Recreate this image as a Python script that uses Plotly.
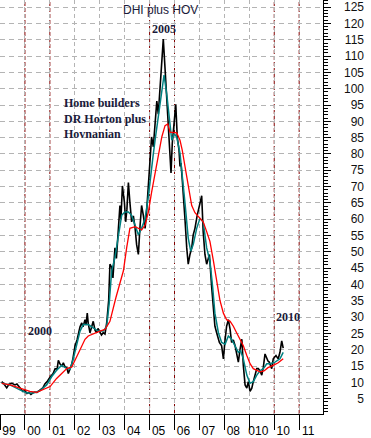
import plotly.graph_objects as go

# ---------------- data ----------------
price_t = [1999.07,1999.16,1999.27,1999.36,1999.48,1999.60,1999.68,1999.76,1999.84,1999.92,
           2000.00,2000.08,2000.16,2000.24,2000.32,2000.40,2000.48,2000.56,2000.64,2000.72,2000.80,2000.89,2000.97,
           2001.05,2001.13,2001.21,2001.29,2001.34,2001.41,2001.49,2001.54,2001.61,2001.68,2001.74,2001.81,2001.88,2001.93,
           2002.01,2002.09,2002.14,2002.21,2002.28,2002.33,2002.41,2002.45,2002.50,2002.54,2002.61,2002.67,2002.74,2002.81,2002.88,2002.93,
           2003.01,2003.07,2003.14,2003.21,2003.28,2003.36,2003.41,2003.48,2003.53,2003.61,2003.67,2003.75,2003.81,2003.85,2003.91,2003.99,
           2004.04,2004.09,2004.15,2004.21,2004.28,2004.35,2004.42,2004.48,2004.55,2004.62,2004.68,2004.75,2004.82,2004.88,2004.95,
           2005.02,2005.08,2005.15,2005.22,2005.29,2005.35,2005.42,2005.49,2005.55,2005.62,2005.69,2005.75,2005.82,2005.86,2005.91,2005.98,
           2006.05,2006.11,2006.18,2006.22,2006.26,2006.31,2006.35,2006.42,2006.49,2006.55,2006.62,2006.69,2006.75,2006.82,2006.91,2006.99,
           2007.09,2007.15,2007.22,2007.29,2007.34,2007.40,2007.49,2007.56,2007.62,2007.69,2007.74,2007.80,2007.89,2007.96,
           2008.03,2008.09,2008.16,2008.23,2008.29,2008.36,2008.43,2008.49,2008.56,2008.63,2008.70,2008.76,2008.83,2008.90,2008.96,
           2009.03,2009.10,2009.16,2009.23,2009.30,2009.36,2009.43,2009.50,2009.56,2009.63,2009.70,2009.75,2009.80,2009.90,2009.96,
           2010.07,2010.16,2010.23,2010.30,2010.36]
price_v = [10.2,9.5,8.3,9.4,9.7,9.2,9.5,8.6,7.8,7.2,
           7.5,6.6,6.9,6.3,6.8,7.0,6.9,7.4,7.8,8.3,9.5,10.2,11.2,
           12.0,12.7,14.2,14.0,16.7,15.6,15.0,16.0,14.7,14.5,12.7,14.0,15.6,17.5,
           21.2,23.0,25.2,27.0,28.2,27.0,29.2,27.5,31.2,28.0,25.2,27.0,28.7,26.0,25.2,26.5,
           25.5,24.5,25.2,24.8,28.2,35.2,46.2,45.2,42.0,51.2,48.0,57.2,64.2,60.0,70.2,65.2,
           59.2,63.0,71.2,65.2,59.2,61.0,57.2,52.2,49.2,58.2,64.2,61.2,57.2,62.2,71.2,
           79.2,85.2,82.2,88.2,96.2,92.2,101.2,111.2,115.2,106.2,96.2,88.2,79.2,74.2,83.2,88.2,
           95.2,85.2,81.2,76.2,77.2,72.2,66.2,60.0,51.2,46.2,49.2,51.2,55.2,57.2,61.2,64.2,
           67.2,56.2,49.2,46.2,48.0,49.2,39.2,31.2,27.2,25.2,24.0,22.2,21.2,17.2,
           23.2,27.2,29.2,26.2,22.2,23.0,21.2,18.2,16.2,20.2,23.2,15.2,9.2,8.2,10.2,
           7.2,8.2,10.2,12.2,14.2,14.2,13.5,12.2,14.5,18.7,17.2,16.5,16.2,14.2,17.2,
           18.2,17.2,19.2,22.7,20.5]

short_ma_t = [1999.07,1999.40,1999.80,2000.07,2000.34,2000.60,2000.87,2001.07,2001.27,2001.47,2001.68,2001.81,2001.94,
              2002.08,2002.21,2002.34,2002.54,2002.74,2002.94,2003.14,2003.28,2003.38,2003.48,2003.61,2003.75,2003.88,
              2004.01,2004.15,2004.28,2004.42,2004.55,2004.68,2004.82,2004.95,2005.02,2005.08,2005.15,2005.22,2005.35,
              2005.49,2005.58,2005.69,2005.78,2005.89,2005.99,2006.09,2006.22,2006.35,2006.42,2006.55,2006.65,2006.75,
              2006.89,2007.02,2007.15,2007.29,2007.42,2007.53,2007.62,2007.76,2007.89,2008.03,2008.16,2008.29,2008.43,
              2008.56,2008.65,2008.76,2008.90,2009.03,2009.16,2009.30,2009.43,2009.56,2009.70,2009.83,2010.03,2010.23,2010.36]
short_ma_v = [9.7,9.2,7.7,6.7,6.7,7.4,9.2,11.7,13.7,15.2,14.2,14.0,17.2,
              21.7,25.7,27.7,27.7,26.7,25.7,25.7,27.2,34.2,44.2,48.2,55.2,61.2,
              62.2,62.2,61.2,58.2,55.2,57.2,60.2,67.0,72.0,77.0,80.0,84.2,91.2,
              99.2,104.2,98.2,91.2,84.2,86.2,85.2,80.2,71.2,65.0,54.2,50.2,52.2,
              57.2,60.2,59.2,51.2,47.2,39.2,31.2,25.2,22.2,21.7,24.2,23.2,21.2,
              19.2,19.7,17.2,12.2,9.7,10.2,12.2,13.5,14.2,15.7,15.7,16.2,17.2,19.2]

long_ma_t = [1999.07,1999.40,1999.80,2000.20,2000.47,2000.74,2001.01,2001.27,2001.54,2001.68,2001.88,
             2002.01,2002.21,2002.41,2002.54,2002.81,2003.01,2003.21,2003.41,2003.65,2003.95,
             2004.08,2004.21,2004.42,2004.68,2004.82,2004.95,2005.08,2005.22,2005.35,2005.49,2005.62,2005.73,2005.82,2005.95,
             2006.09,2006.22,2006.31,2006.42,2006.55,2006.69,2006.82,2007.02,2007.15,2007.29,2007.42,2007.56,2007.69,2007.82,2007.96,
             2008.09,2008.23,2008.36,2008.49,2008.63,2008.76,2008.90,2009.03,2009.16,2009.30,2009.43,2009.59,2009.75,2009.96,
             2010.16,2010.36]
long_ma_v = [9.7,9.2,8.2,7.2,6.9,7.7,8.7,11.2,13.2,14.2,14.7,
             16.7,20.2,23.2,24.2,25.2,25.7,26.2,28.7,36.0,44.2,
             51.2,57.2,57.7,56.7,58.2,62.2,68.2,74.2,80.2,85.2,88.7,89.2,86.7,86.7,
             86.5,84.2,81.2,76.2,69.7,64.2,62.0,60.2,59.2,56.2,53.2,47.2,41.2,35.2,31.2,
             29.2,28.7,27.2,25.2,23.2,21.2,18.2,15.7,14.2,13.7,13.2,13.5,14.5,15.2,
             16.0,17.2]

year_ticks = [1999, 2000, 2001, 2002, 2003, 2004, 2005, 2006, 2007, 2008, 2009, 2010, 2011]
year_labels = ["99", "00", "01", "02", "03", "04", "05", "06", "07", "08", "010", "10", "11"]
highlight_years = [2000, 2001, 2005, 2006, 2010, 2011]
value_ticks = list(range(5, 130, 5))

title_text = "DHI plus HOV"
note_lines = ["Home builders", "DR Horton plus", "Hovnanian"]
year_notes = ["2005", "2000", "2010"]

# ---------------- layout geometry ----------------
W, H = 371, 438
PLOT_R = 323          # right edge of plotting area (px)
PLOT_B = 423          # bottom edge of plotting area (px)
X_RANGE = [1999.0, 2011.956]
Y_RANGE = [0.29, 127.19]

def px(x):
    return x / W

def py(y):
    return 1 - y / PLOT_B

GRID = "#b4b4b4"
DARKRED = "#850000"
TEXT = "#1a1a3a"

fig = go.Figure()
fig.add_trace(go.Scatter(x=price_t, y=price_v, mode="lines",
                         line=dict(color="black", width=1.6), showlegend=False))
fig.add_trace(go.Scatter(x=short_ma_t, y=short_ma_v, mode="lines",
                         line=dict(color="#008080", width=1.5), showlegend=False))
fig.add_trace(go.Scatter(x=long_ma_t, y=long_ma_v, mode="lines",
                         line=dict(color="#ff0000", width=1.3), showlegend=False))
# invisible carrier so the right-aligned label axis gets drawn
fig.add_trace(go.Scatter(x=price_t[:1], y=price_v[:1], yaxis="y2", mode="markers",
                         marker=dict(opacity=0), hoverinfo="skip", showlegend=False))

for yr in highlight_years:
    fig.add_vline(x=yr, line=dict(color=DARKRED, width=1, dash="4px,2px"), layer="below")

annotations = [
    dict(text=title_text, x=px(160), y=py(10), xanchor="center", yanchor="middle",
         font=dict(family="Arial, Liberation Sans", size=12, color=TEXT)),
    dict(text="<b>" + year_notes[0] + "</b>", x=px(164), y=py(30), xanchor="center", yanchor="middle",
         font=dict(family="Liberation Serif, Times New Roman", size=12, color=TEXT)),
    dict(text="<b>" + "<br>".join(note_lines) + "</b>", x=px(62), y=py(121), xanchor="left", yanchor="middle",
         align="left", font=dict(family="Liberation Serif, Times New Roman", size=12, color=TEXT)),
    dict(text="<b>" + year_notes[1] + "</b>", x=px(40), y=py(338), xanchor="center", yanchor="middle",
         font=dict(family="Liberation Serif, Times New Roman", size=12, color=TEXT)),
    dict(text="<b>" + year_notes[2] + "</b>", x=px(288), y=py(324), xanchor="center", yanchor="middle",
         font=dict(family="Liberation Serif, Times New Roman", size=12, color=TEXT)),
]
for a in annotations:
    a.update(xref="paper", yref="paper", showarrow=False)

fig.update_layout(
    width=W, height=H,
    margin=dict(l=0, r=0, t=0, b=H - PLOT_B, pad=0),
    paper_bgcolor="white", plot_bgcolor="white",
    annotations=annotations,
    xaxis=dict(
        domain=[0, PLOT_R / W], range=X_RANGE,
        tickmode="array", tickvals=year_ticks, ticktext=year_labels,
        ticks="outside", ticklen=H - PLOT_B, tickcolor="black", tickwidth=1,
        ticklabelshift=9, ticklabelstandoff=-9,
        tickfont=dict(family="Arial, Liberation Sans", size=12, color="black"),
        showgrid=True, gridcolor=GRID, griddash="4px,3px", gridwidth=1,
        showline=True, linecolor="black", linewidth=1,
        zeroline=False, fixedrange=True,
    ),
    yaxis=dict(
        side="right", range=Y_RANGE, tickmode="array", tickvals=value_ticks,
        showticklabels=False, ticks="outside", ticklen=7, tickcolor="black",
        minor=dict(dtick=1, tick0=0, ticks="outside", ticklen=4, tickcolor="black", showgrid=False),
        showgrid=True, gridcolor=GRID, griddash="5px,4px", gridwidth=1,
        showline=True, linecolor="black", linewidth=1, zeroline=False,
    ),
    yaxis2=dict(
        overlaying="y", side="left", anchor="free", position=364 / W,
        range=Y_RANGE, tickmode="array", tickvals=value_ticks,
        ticks="", showgrid=False, showline=False, zeroline=False,
        tickfont=dict(family="Arial, Liberation Sans", size=12, color="#111111"),
    ),
)

fig.write_html("out.html")
